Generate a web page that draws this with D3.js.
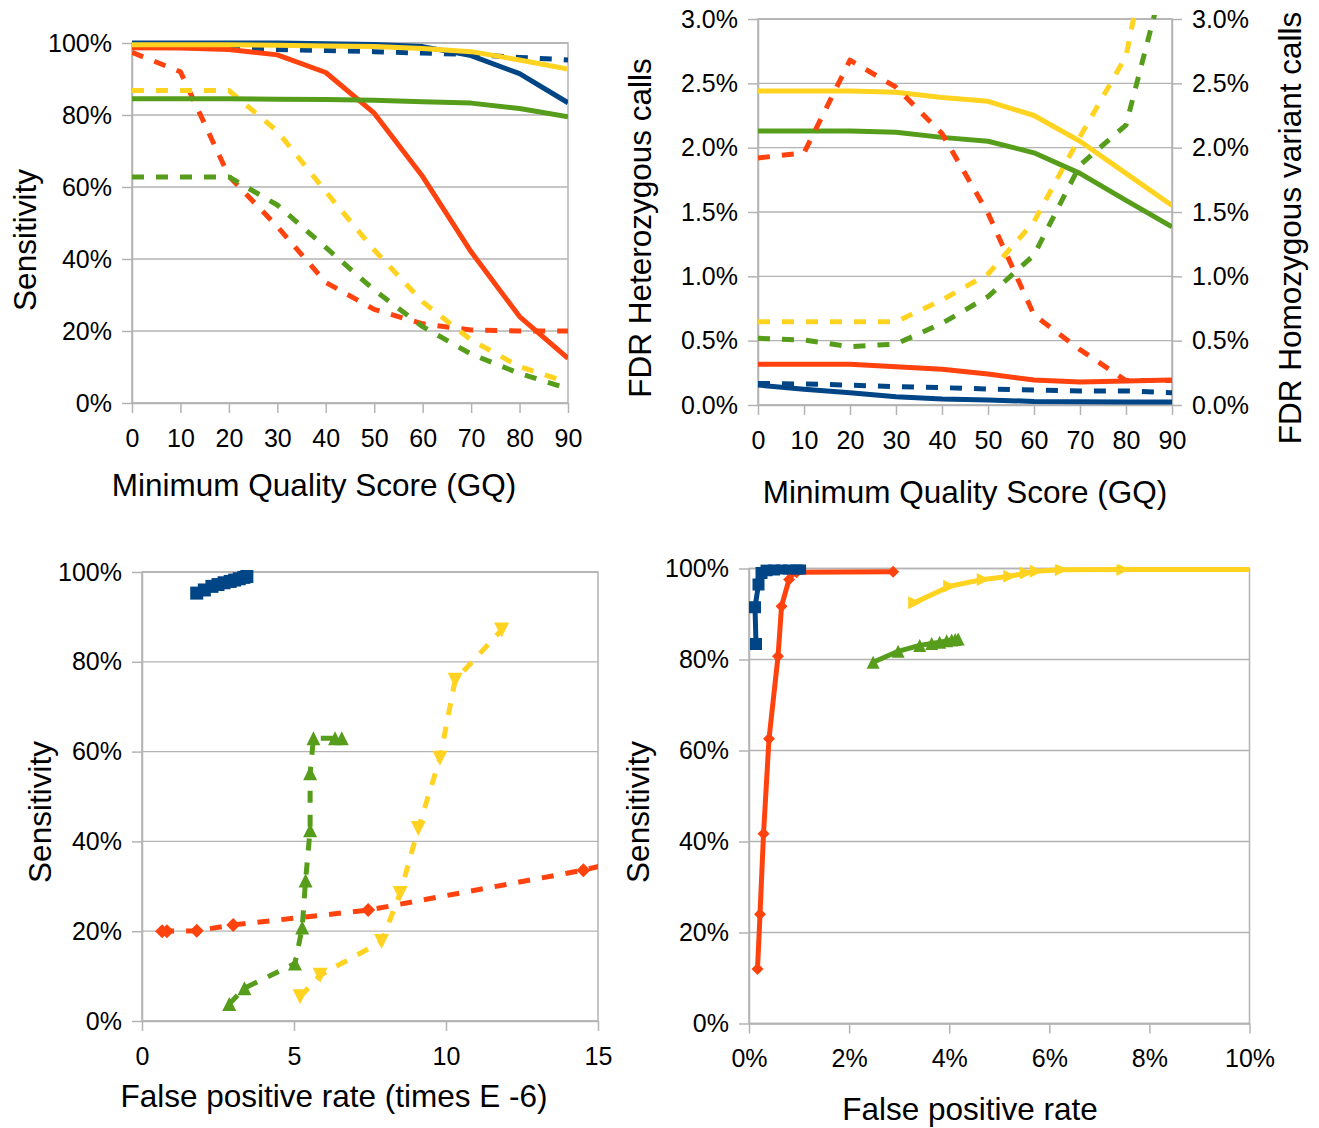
<!DOCTYPE html>
<html>
<head>
<meta charset="utf-8">
<script src="https://cdn.jsdelivr.net/npm/d3@7"></script>
<style>
  body { margin: 0; background: #fff; }
</style>
</head>
<body>
<svg width="1319" height="1128"></svg>
<script>
// ---- data ----
const gq = [0, 10, 20, 30, 40, 50, 60, 70, 80, 90];

// top left: sensitivity (%) by minimum GQ
const tlBlue       = [100, 100, 100, 100, 99.8, 99.6, 99, 96.5, 91.5, 83.4];
const tlBlueDash   = [99, 98.8, 98.5, 98.2, 97.9, 97.6, 97.2, 96.8, 96, 95.3];
const tlRed        = [98.7, 98.6, 98.2, 96.7, 91.8, 80.5, 62.9, 42, 24, 12.4];
const tlRedDash    = [97.4, 92, 63, 49, 33.5, 26, 22, 20.3, 20, 20];
const tlYellow     = [99.5, 99.5, 99.5, 99.4, 99.2, 99, 98.5, 97.6, 95.3, 92.8];
const tlYellowDash = [86.8, 86.8, 86.8, 75.5, 58.7, 42.5, 28.1, 17.5, 10.1, 5.7];
const tlGreen      = [84.5, 84.5, 84.5, 84.4, 84.3, 84.1, 83.7, 83.3, 81.8, 79.5];
const tlGreenDash  = [62.8, 62.8, 62.8, 55, 43.2, 31.4, 21.2, 13.6, 8.2, 4];

// top right: FDR (%) by minimum GQ (solid = heterozygous, dashed = homozygous)
const trBlue       = [0.155, 0.122, 0.096, 0.065, 0.047, 0.039, 0.028, 0.025, 0.024, 0.023];
const trBlueDash   = [0.168, 0.163, 0.155, 0.142, 0.135, 0.124, 0.117, 0.109, 0.109, 0.096];
const trRed        = [0.316, 0.316, 0.316, 0.298, 0.277, 0.241, 0.194, 0.179, 0.186, 0.194];
const trRedDash    = [1.92, 1.96, 2.68, 2.47, 2.11, 1.49, 0.70, 0.43, 0.19, 0.19];
const trYellow     = [2.44, 2.44, 2.44, 2.43, 2.39, 2.36, 2.25, 2.05, 1.80, 1.55];
const trYellowDash = [0.647, 0.647, 0.647, 0.647, 0.816, 1.018, 1.425, 2.085, 2.71, 4.5];
const trGreen      = [2.13, 2.13, 2.13, 2.12, 2.08, 2.05, 1.96, 1.80, 1.59, 1.385];
const trGreenDash  = [0.518, 0.505, 0.453, 0.474, 0.635, 0.842, 1.166, 1.865, 2.176, 3.56];

// bottom left: false positive rate (E-6) vs sensitivity (%)
const blFprBlue    = [1.8, 2.05, 2.3, 2.5, 2.7, 2.9, 3.05, 3.2, 3.35, 3.45];
const blSensBlue   = [95.3, 96.0, 96.8, 97.2, 97.6, 97.9, 98.2, 98.5, 98.8, 99.0];
const blFprRed     = [0.66, 0.82, 1.8, 3.0, 7.44, 14.52, 20];
const blSensRed    = [20, 20, 20.1, 21.4, 24.7, 33.6, 42.7];
const blFprYellow  = [5.2, 5.86, 7.88, 8.49, 9.09, 9.8, 10.3, 11.83];
const blSensYellow = [5.4, 10.2, 17.7, 28.4, 42.9, 58.5, 75.9, 87.1];
const blFprGreen   = [2.87, 3.37, 5.03, 5.27, 5.38, 5.53, 5.53, 5.64, 6.35, 6.57];
const blSensGreen  = [3.8, 7.3, 12.8, 20.8, 31.3, 42.5, 55.2, 63, 63, 63];

// bottom right: false positive rate (%) vs sensitivity (%)
const brFprBlue    = [0.14, 0.12, 0.19, 0.25, 0.35, 0.5, 0.65, 0.8, 0.95, 1.02];
const brSensBlue   = [83.4, 91.5, 96.5, 99, 99.6, 99.8, 100, 100, 100, 100];
const brFprRed     = [0.17, 0.22, 0.29, 0.40, 0.58, 0.65, 0.80, 0.85, 0.95, 2.88];
const brSensRed    = [12, 24, 41.7, 62.6, 80.7, 91.7, 97.6, 98.9, 99.2, 99.3];
const brFprYellow  = [3.31, 4.01, 4.68, 5.21, 5.54, 5.74, 6.24, 7.47, 12];
const brSensYellow = [92.5, 96.1, 97.6, 98.3, 99.0, 99.4, 99.7, 99.8, 99.8];
const brFprGreen   = [2.48, 2.98, 3.41, 3.65, 3.81, 3.95, 4.05, 4.12, 4.18];
const brSensGreen  = [79.4, 81.8, 83.1, 83.5, 83.8, 84.1, 84.3, 84.4, 84.5];

const sensTicks = [0, 20, 40, 60, 80, 100];
const fdrTicks = [0, 0.5, 1, 1.5, 2, 2.5, 3];
const fprTicksE6 = [0, 5, 10, 15];
const fprTicksPct = [0, 2, 4, 6, 8, 10];

// ---- drawing ----
const svg = d3.select("svg");
const FONT = '"Liberation Sans", Arial, sans-serif';
const gridColor = "#b3b3b3";
const blue = "#004586", red = "#ff420e", yellow = "#ffd320", green = "#579d1c";

function styleAxis(sel) {
  sel.attr("font-size", 25).attr("font-family", FONT);
  sel.select(".domain").attr("stroke", gridColor).attr("stroke-width", 1.5);
  sel.selectAll(".tick line").attr("stroke", gridColor).attr("stroke-width", 1.5);
  sel.selectAll(".tick text").attr("fill", "#000");
}

function panel(id, box, xDomain, yDomain, xTicks, yTicks, xFmt, yFmt, withRight) {
  const x = d3.scaleLinear().domain(xDomain).range([box.left, box.right]);
  const y = d3.scaleLinear().domain(yDomain).range([box.bottom, box.top]);
  const g = svg.append("g");

  g.append("g")
    .selectAll("line")
    .data(yTicks)
    .join("line")
    .attr("x1", box.left)
    .attr("x2", box.right)
    .attr("y1", d => y(d))
    .attr("y2", d => y(d))
    .attr("stroke", gridColor)
    .attr("stroke-width", 1.3);

  g.append("rect")
    .attr("x", box.left)
    .attr("y", box.top)
    .attr("width", box.right - box.left)
    .attr("height", box.bottom - box.top)
    .attr("fill", "none")
    .attr("stroke", gridColor)
    .attr("stroke-width", 1.5);

  g.append("g")
    .attr("transform", `translate(0,${box.bottom})`)
    .call(d3.axisBottom(x).tickValues(xTicks).tickFormat(xFmt).tickSize(10).tickSizeOuter(0).tickPadding(16))
    .call(styleAxis);

  g.append("g")
    .attr("transform", `translate(${box.left},0)`)
    .call(d3.axisLeft(y).tickValues(yTicks).tickFormat(yFmt).tickSize(10).tickSizeOuter(0).tickPadding(10))
    .call(styleAxis);

  if (withRight) {
    g.append("g")
      .attr("transform", `translate(${box.right},0)`)
      .call(d3.axisRight(y).tickValues(yTicks).tickFormat(yFmt).tickSize(10).tickSizeOuter(0).tickPadding(10))
      .call(styleAxis);
  }

  g.append("clipPath").attr("id", id)
    .append("rect")
    .attr("x", box.left)
    .attr("y", box.top - 4)
    .attr("width", box.right - box.left)
    .attr("height", box.bottom - box.top + 8);

  const plot = g.append("g").attr("clip-path", `url(#${id})`);
  return { x, y, plot };
}

function markerPath(type, s) {
  const h = s / 2;
  if (type === "square") return `M${-h},${-h}h${s}v${s}h${-s}Z`;
  if (type === "diamond") return `M0,${-h}L${h},0L0,${h}L${-h},0Z`;
  if (type === "up") return `M0,${-h}L${h},${h}L${-h},${h}Z`;
  if (type === "down") return `M${-h},${-h}L${h},${-h}L0,${h}Z`;
  if (type === "right") return `M${-h},${-h}L${h},0L${-h},${h}Z`;
  return "";
}

function drawSeries(p, xs, ys, color, dashed, marker, msize) {
  const pts = xs.map((v, i) => [v, ys[i]]);
  p.plot.append("path")
    .datum(pts)
    .attr("fill", "none")
    .attr("stroke", color)
    .attr("stroke-width", 5)
    .attr("stroke-linejoin", "round")
    .attr("stroke-dasharray", dashed ? "12,12" : null)
    .attr("d", d3.line().x(d => p.x(d[0])).y(d => p.y(d[1])));

  if (marker) {
    p.plot.append("g")
      .selectAll("path")
      .data(pts)
      .join("path")
      .attr("transform", d => `translate(${p.x(d[0])},${p.y(d[1])})`)
      .attr("d", markerPath(marker, msize))
      .attr("fill", color);
  }
}

function label(x, y, str, rotate) {
  svg.append("text")
    .attr("transform", rotate ? `translate(${x},${y}) rotate(-90)` : `translate(${x},${y})`)
    .attr("dy", rotate ? "0.36em" : null)
    .attr("text-anchor", "middle")
    .attr("font-family", FONT)
    .attr("font-size", 31.5)
    .attr("fill", "#000")
    .text(str);
}

// top left
const tl = panel("clipTL", { left: 132, right: 568, top: 43, bottom: 403 },
  [0, 90], [0, 100], gq, sensTicks, d => d, d => d + "%", false);
drawSeries(tl, gq, tlBlueDash, blue, true);
drawSeries(tl, gq, tlRedDash, red, true);
drawSeries(tl, gq, tlYellowDash, yellow, true);
drawSeries(tl, gq, tlGreenDash, green, true);
drawSeries(tl, gq, tlBlue, blue, false);
drawSeries(tl, gq, tlRed, red, false);
drawSeries(tl, gq, tlYellow, yellow, false);
drawSeries(tl, gq, tlGreen, green, false);
label(314, 496, "Minimum Quality Score (GQ)");
label(25, 240, "Sensitivity", true);

// top right
const tr = panel("clipTR", { left: 758, right: 1172, top: 19, bottom: 405 },
  [0, 90], [0, 3], gq, fdrTicks, d => d, d => d.toFixed(1) + "%", true);
drawSeries(tr, gq, trBlue, blue, false);
drawSeries(tr, gq, trRed, red, false);
drawSeries(tr, gq, trYellow, yellow, false);
drawSeries(tr, gq, trGreen, green, false);
drawSeries(tr, gq, trBlueDash, blue, true);
drawSeries(tr, gq, trRedDash, red, true);
drawSeries(tr, gq, trYellowDash, yellow, true);
drawSeries(tr, gq, trGreenDash, green, true);
label(965, 503, "Minimum Quality Score (GQ)");
label(640, 228, "FDR Heterozygous calls", true);
label(1290, 228, "FDR Homozygous variant calls", true);

// bottom left
const bl = panel("clipBL", { left: 142, right: 598, top: 572, bottom: 1021 },
  [0, 15], [0, 100], fprTicksE6, sensTicks, d => d, d => d + "%", false);
drawSeries(bl, blFprBlue, blSensBlue, blue, true, "square", 13);
drawSeries(bl, blFprYellow, blSensYellow, yellow, true, "down", 15);
drawSeries(bl, blFprGreen, blSensGreen, green, true, "up", 14);
drawSeries(bl, blFprRed, blSensRed, red, true, "diamond", 14);
label(334, 1107, "False positive rate (times E -6)");
label(40, 812, "Sensitivity", true);

// bottom right
const br = panel("clipBR", { left: 749, right: 1249.5, top: 568.5, bottom: 1023.5 },
  [0, 10], [0, 100], fprTicksPct, sensTicks, d => d + "%", d => d + "%", false);
drawSeries(br, brFprRed, brSensRed, red, false, "diamond", 12);
drawSeries(br, brFprBlue, brSensBlue, blue, false, "square", 12);
drawSeries(br, brFprYellow, brSensYellow, yellow, false, "right", 13);
drawSeries(br, brFprGreen, brSensGreen, green, false, "up", 13);
label(970, 1120, "False positive rate");
label(638, 812, "Sensitivity", true);
</script>
</body>
</html>
